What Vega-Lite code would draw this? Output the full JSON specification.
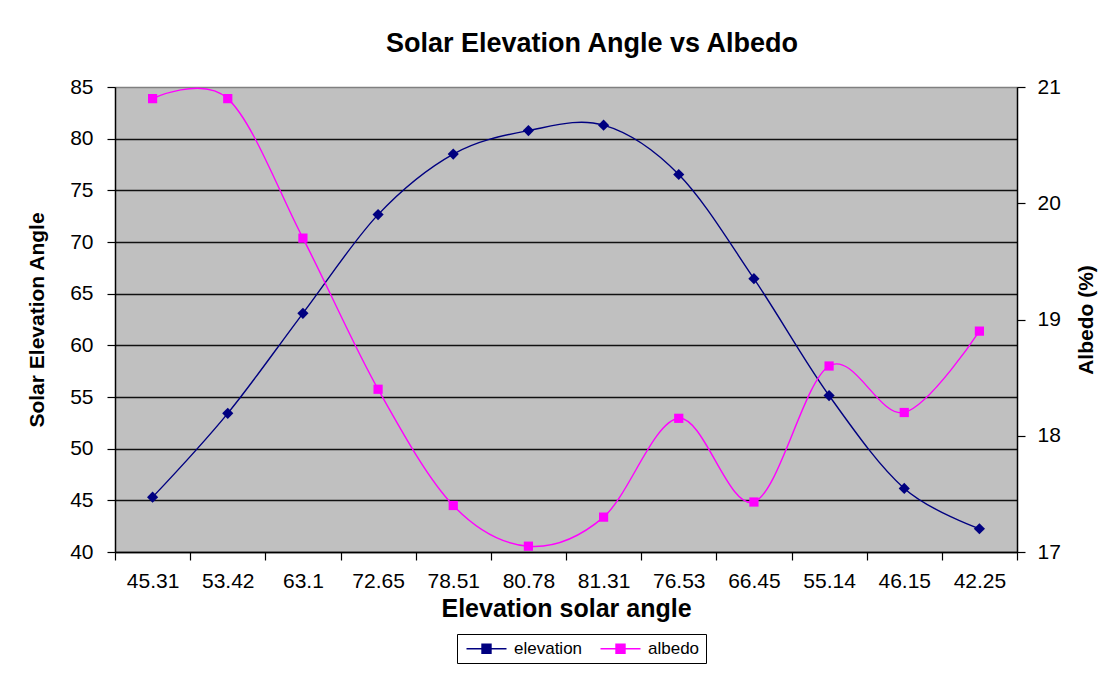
{
  "$schema": "https://vega.github.io/schema/vega-lite/v6.json",
  "width": 902,
  "height": 465,
  "autosize": {"type": "none"},
  "padding": {"left": 115, "top": 87, "right": 96, "bottom": 125},
  "background": "white",
  "title": {
    "text": "Solar Elevation Angle vs Albedo",
    "font": "Liberation Sans",
    "fontSize": 27,
    "fontWeight": "bold",
    "color": "black",
    "anchor": "middle",
    "frame": "group",
    "dx": 26,
    "dy": 36,
    "baseline": "alphabetic",
    "offset": 33
  },
  "data": {
    "values": [
      {"angle": "45.31", "elevation": 45.31, "albedo": 20.9},
      {"angle": "53.42", "elevation": 53.42, "albedo": 20.9},
      {"angle": "63.1", "elevation": 63.1, "albedo": 19.7},
      {"angle": "72.65", "elevation": 72.65, "albedo": 18.4},
      {"angle": "78.51", "elevation": 78.51, "albedo": 17.4},
      {"angle": "80.78", "elevation": 80.78, "albedo": 17.05},
      {"angle": "81.31", "elevation": 81.31, "albedo": 17.3},
      {"angle": "76.53", "elevation": 76.53, "albedo": 18.15},
      {"angle": "66.45", "elevation": 66.45, "albedo": 17.43},
      {"angle": "55.14", "elevation": 55.14, "albedo": 18.6},
      {"angle": "46.15", "elevation": 46.15, "albedo": 18.2},
      {"angle": "42.25", "elevation": 42.25, "albedo": 18.9}
    ]
  },
  "encoding": {
    "x": {
      "field": "angle",
      "type": "nominal",
      "sort": null,
      "bandPosition": 0.5,
      "scale": {"type": "band", "paddingInner": 0, "paddingOuter": 0},
      "axis": {
        "title": "Elevation solar angle",
        "labelAngle": 0,
        "tickBand": "extent",
        "grid": false,
        "tickSize": 8,
        "labelPadding": 10,
        "titlePadding": 5,
        "titleFontSize": 25
      }
    }
  },
  "layer": [
    {
      "encoding": {
        "y": {
          "field": "elevation",
          "type": "quantitative",
          "scale": {"domain": [40, 85], "nice": false, "zero": false},
          "axis": {
            "orient": "left",
            "title": "Solar Elevation Angle",
            "values": [40, 45, 50, 55, 60, 65, 70, 75, 80, 85],
            "grid": true,
            "gridColor": {"condition": {"test": "datum.value === 85", "value": "#808080"}, "value": "#111111"},
            "gridWidth": 1.6,
            "tickSize": 8,
            "labelPadding": 14,
            "titlePadding": 22
          }
        }
      },
      "layer": [
        {
          "mark": {"type": "line", "interpolate": "cardinal", "strokeWidth": 1.4},
          "encoding": {
            "color": {
              "datum": "elevation",
              "type": "nominal",
              "scale": {"domain": ["elevation", "albedo"], "range": ["#000080", "#ff00ff"]},
              "legend": {
                "orient": "none",
                "legendX": 342,
                "legendY": 547,
                "direction": "horizontal",
                "title": null,
                "strokeColor": "black",
                "fillColor": "white",
                "padding": 6,
                "cornerRadius": 0,
                "labelFont": "Liberation Sans",
                "labelFontSize": 17,
                "labelColor": "black",
                "symbolType": "M-4,0H4M-0.9,-0.9H0.9V0.9H-0.9Z",
                "symbolSize": 100,
                "symbolStrokeWidth": 1.4,
                "symbolOffset": 15,
                "labelOffset": 19,
                "columnPadding": 14
              }
            }
          }
        },
        {
          "mark": {"type": "point", "shape": "diamond", "filled": true, "size": 125, "opacity": 1},
          "encoding": {"color": {"datum": "elevation", "type": "nominal"}}
        }
      ]
    },
    {
      "encoding": {
        "y": {
          "field": "albedo",
          "type": "quantitative",
          "scale": {"domain": [17, 21], "nice": false, "zero": false},
          "axis": {
            "orient": "right",
            "title": "Albedo (%)",
            "titleAngle": -90,
            "values": [17, 18, 19, 20, 21],
            "grid": false,
            "tickSize": 8,
            "labelPadding": 12,
            "titlePadding": 36
          }
        }
      },
      "layer": [
        {
          "mark": {"type": "line", "interpolate": "cardinal", "strokeWidth": 1.4},
          "encoding": {"color": {"datum": "albedo", "type": "nominal"}}
        },
        {
          "mark": {"type": "point", "shape": "square", "filled": true, "size": 85, "opacity": 1},
          "encoding": {"color": {"datum": "albedo", "type": "nominal"}}
        }
      ]
    }
  ],
  "resolve": {"scale": {"y": "independent"}},
  "config": {
    "view": {"stroke": "#808080", "fill": "#c0c0c0"},
    "axis": {
      "labelFont": "Liberation Sans",
      "labelFontSize": 21,
      "labelColor": "black",
      "titleFont": "Liberation Sans",
      "titleFontSize": 21,
      "titleFontWeight": "bold",
      "titleColor": "black",
      "domainColor": "black",
      "domainWidth": 1.5,
      "tickColor": "black",
      "tickWidth": 1.2
    }
  }
}
